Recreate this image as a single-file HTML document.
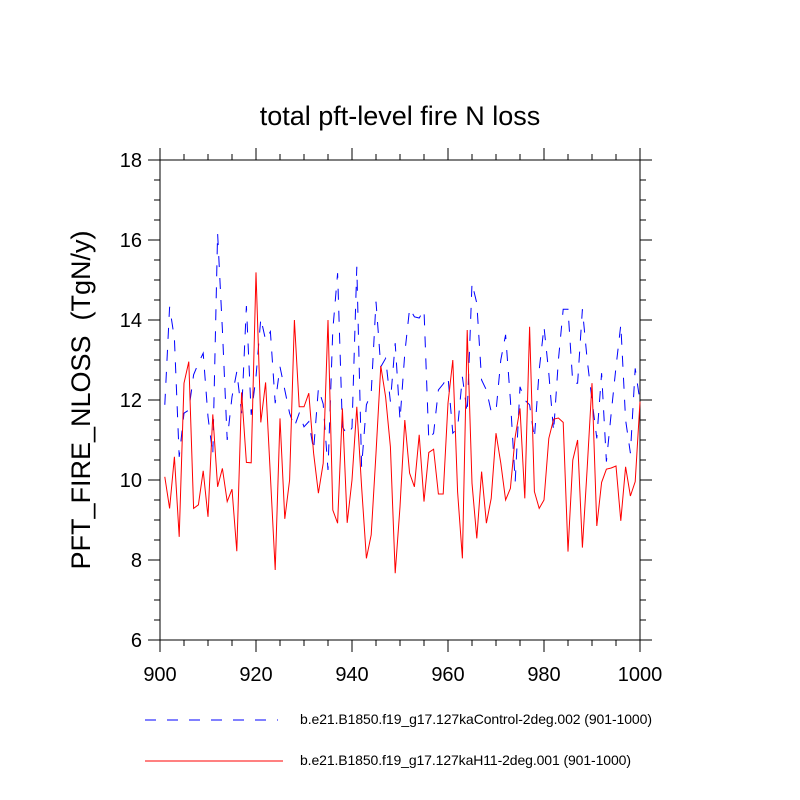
<!DOCTYPE html>
<html><head><meta charset="utf-8"><style>
body{margin:0;background:#fff}
svg{display:block;font-family:"Liberation Sans",sans-serif}
</style></head><body>
<svg id="chart" width="800" height="800">
<text x="400" y="125" text-anchor="middle" font-size="27">total pft-level fire N loss</text>
<text transform="translate(90,400) rotate(-90)" text-anchor="middle" font-size="27" style="white-space:pre" xml:space="preserve">PFT_FIRE_NLOSS  (TgN/y)</text>
<g id="axes"></g>
<g id="series"></g>
<g>
<line x1="145" y1="720" x2="278" y2="720" stroke="#0000ff" stroke-width="1" stroke-dasharray="11,11"/>
<text x="300" y="724" font-size="14" textLength="352">b.e21.B1850.f19_g17.127kaControl-2deg.002 (901-1000)</text>
<line x1="145" y1="761" x2="283" y2="761" stroke="#ff0000" stroke-width="1"/>
<text x="300" y="765" font-size="14" textLength="331">b.e21.B1850.f19_g17.127kaH11-2deg.001 (901-1000)</text>
</g>
</svg>
<script>
const yearStart = 901;
const controlValues = [11.88,14.33,13.54,10.58,11.67,11.75,12.63,12.92,13.17,11.58,10.63,16.17,13.75,11.0,12.08,12.71,11.67,14.35,11.63,12.58,14.04,13.5,13.71,11.92,12.83,12.25,11.67,11.33,11.67,11.33,11.46,10.75,12.29,
11.9,10.25,13.75,15.17,11.33,11.13,11.3,15.33,10.33,11.88,12.17,14.46,12.83,13.04,11.96,13.42,11.5,13.17,14.29,14.08,14.05,14.25,11.0,11.17,12.25,12.4,12.58,11.17,11.3,12.58,11.67,14.92,
14.42,12.5,12.25,11.71,11.71,13.0,13.63,12.0,9.96,12.33,12.0,11.88,11.04,12.75,13.83,12.67,11.21,13.0,14.27,14.27,12.42,12.42,14.27,13.0,12.0,11.04,12.67,10.46,11.67,12.83,13.88,11.5,10.67,12.79,11.96];
const h11Values = [10.08,9.29,10.58,8.58,12.42,12.96,9.29,9.38,10.23,9.08,11.64,9.83,10.29,9.46,9.77,8.22,12.19,10.44,10.43,15.19,11.44,12.44,10.1,7.75,11.54,9.03,10.0,14.0,11.83,11.83,12.17,10.67,9.67,
10.42,14.0,9.25,8.92,11.79,8.93,10.0,11.83,9.83,8.04,8.63,10.67,12.85,12.08,10.83,7.67,9.33,11.5,10.17,9.83,11.13,9.46,10.69,10.77,9.65,9.65,11.92,13.0,9.7,8.04,13.75,9.92,8.54,
10.21,8.92,9.54,11.17,10.42,9.5,9.79,11.08,11.79,9.54,13.83,9.71,9.29,9.5,11.04,11.52,11.55,11.44,8.21,10.5,11.0,8.31,10.3,12.42,8.85,9.94,10.27,10.3,10.35,8.98,10.33,9.6,9.96,11.96];
const xTicks = [900,920,940,960,980,1000];
const yTicks = [6,8,10,12,14,16,18];

const X0=160,X1=640,Y0=640,Y1=160;
const xMin=900,xMax=1000,yMin=6,yMax=18;
const sx=v=>X0+(v-xMin)/(xMax-xMin)*(X1-X0);
const sy=v=>Y0-(v-yMin)/(yMax-yMin)*(Y0-Y1);
const NS='http://www.w3.org/2000/svg';
function mk(tag,attrs,parent){const e=document.createElementNS(NS,tag);for(const k in attrs)e.setAttribute(k,attrs[k]);parent.appendChild(e);return e;}
const axes=document.getElementById('axes');
const frame=mk('rect',{x:X0,y:Y1,width:X1-X0,height:Y0-Y1,fill:'none',stroke:'#000','stroke-width':1},axes);


let d='';
for(let v=yMin;v<=yMax+1e-9;v+=0.5){const y=sy(v);const L=(Math.abs(v-Math.round(v/2)*2)<1e-9)?12:6;d+=`M${X0} ${y}h${-L}M${X1} ${y}h${L}`;}
for(let v=xMin;v<=xMax;v+=5){const x=sx(v);const L=(v%20===0)?12:6;d+=`M${x} ${Y0}v${L}M${x} ${Y1}v${-L}`;}
const ticks=mk('path',{d:d,stroke:'#000','stroke-width':1,fill:'none'},axes);


xTicks.forEach(v=>{const t=mk('text',{x:sx(v),y:Y0+41,'text-anchor':'middle','font-size':20},axes);t.textContent=v;

});
yTicks.forEach(v=>{const t=mk('text',{x:X0-18,y:sy(v)+7,'text-anchor':'end','font-size':20},axes);t.textContent=v;

});
const series=document.getElementById('series');
function pts(arr){return arr.map((v,i)=>sx(yearStart+i).toFixed(1)+','+sy(v).toFixed(1)).join(' ');}
const lc=mk('polyline',{points:pts(controlValues),fill:'none',stroke:'#0000ff','stroke-width':1,'stroke-dasharray':'11,11'},series);


const lh=mk('polyline',{points:pts(h11Values),fill:'none',stroke:'#ff0000','stroke-width':1},series);


</script>
</body></html>
